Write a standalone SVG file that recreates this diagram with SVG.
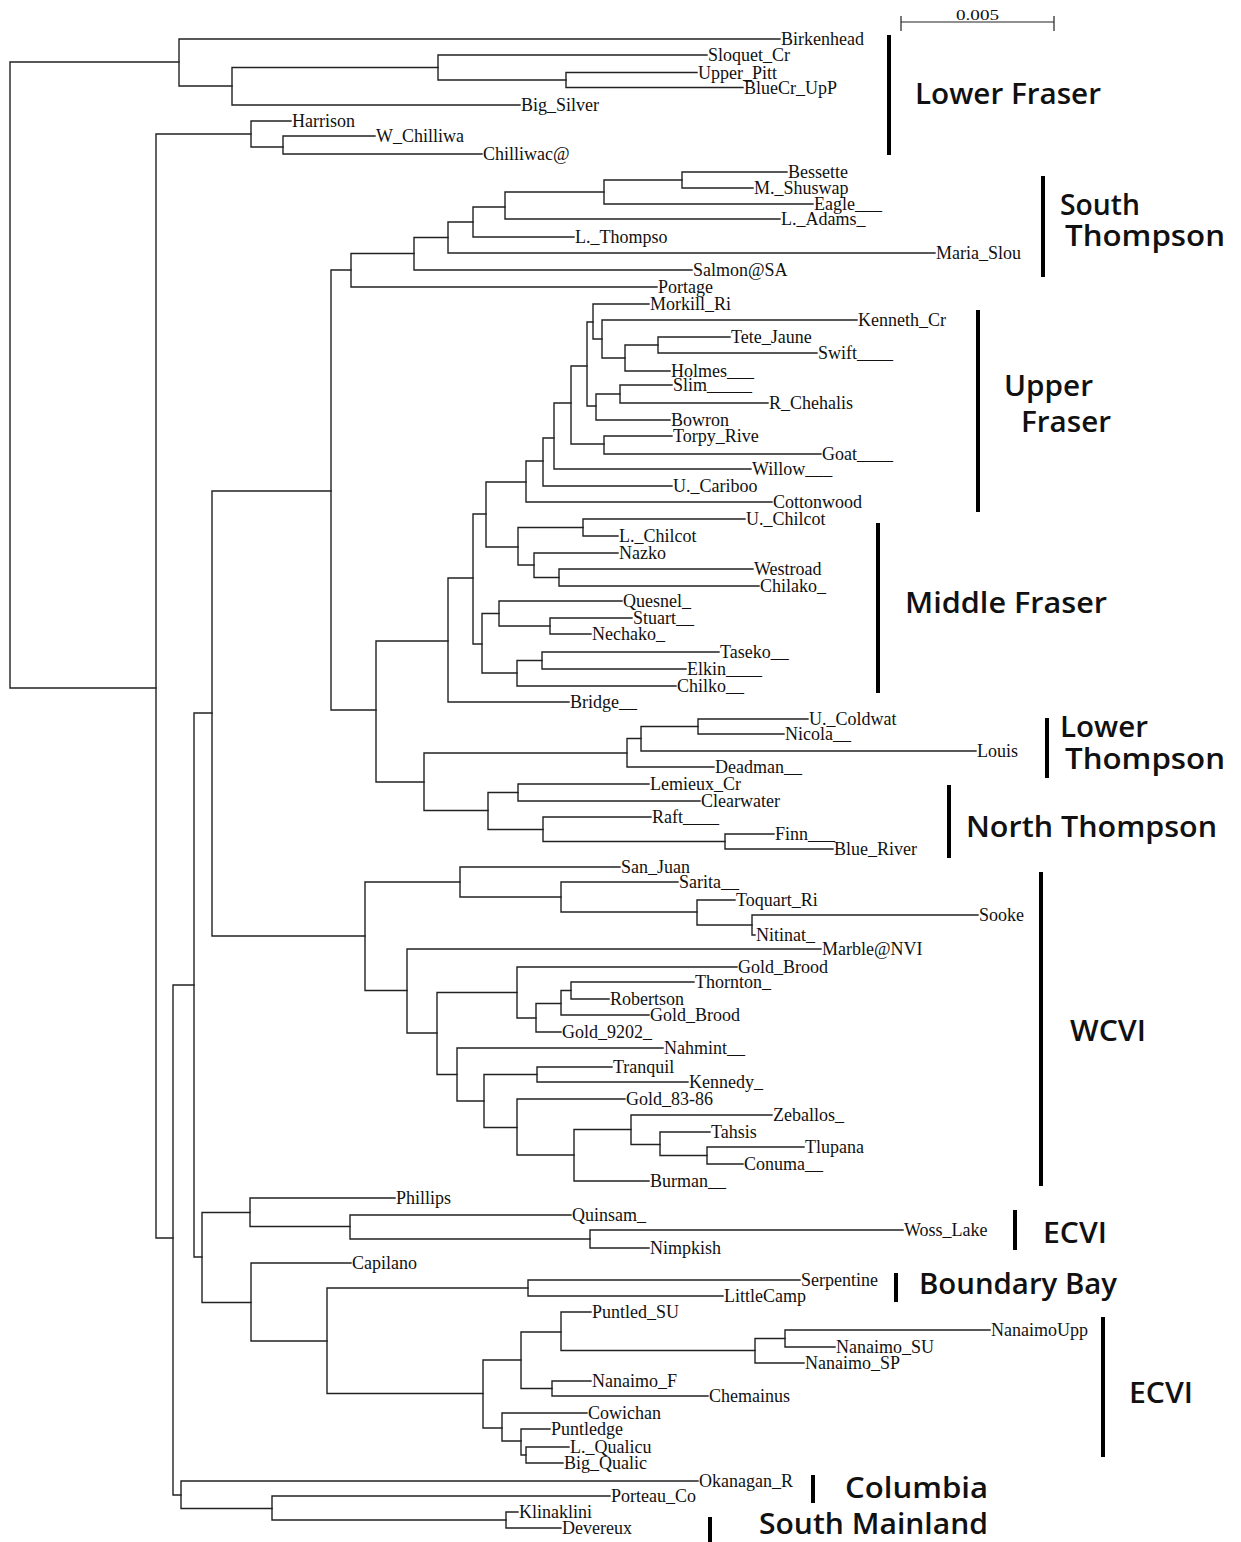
<svg xmlns="http://www.w3.org/2000/svg" width="1241" height="1542" viewBox="0 0 1241 1542">
<style>
.br{fill:none;stroke:#222;stroke-width:1.4;stroke-linecap:square}
.lf{font-family:"Liberation Serif",serif;font-size:18px;fill:#111}
.gl{font-family:"Open Sans",sans-serif;font-weight:600;font-size:28px;fill:#111}
.bar{stroke:#000;stroke-width:4}
.sc{fill:none;stroke:#222;stroke-width:1.2}
</style>
<rect width="1241" height="1542" fill="#fff"/>
<g id="scale-bar">
<path class="sc" d="M901 22 H1054 M901 16 V31 M1054 16 V31"/>
<text x="956" y="20" font-family="Liberation Serif, serif" font-size="14" textLength="43" lengthAdjust="spacingAndGlyphs" fill="#111">0.005</text>
</g>
<g id="connectors">
<path class="br" d="M179 62 H10 V688 H156"/>
<path class="br" d="M780 39 H179 V86 H232"/>
<path class="br" d="M438 67.5 H232 V105 H520"/>
<path class="br" d="M707 55 H438 V80 H566"/>
<path class="br" d="M697 72.5 H566 V87.5 H743"/>
<path class="br" d="M251 134 H156 V1238 H173"/>
<path class="br" d="M291 121 H251 V147 H283"/>
<path class="br" d="M375 136 H283 V154 H482"/>
<path class="br" d="M194 985 H173 V1495 H181"/>
<path class="br" d="M212 713 H194 V1257 H202"/>
<path class="br" d="M331 491 H212 V936 H365"/>
<path class="br" d="M351 270 H331 V710 H376"/>
<path class="br" d="M414 253.5 H351 V287 H657"/>
<path class="br" d="M448 237.5 H414 V270 H692"/>
<path class="br" d="M473 222 H448 V253 H935"/>
<path class="br" d="M505 207 H473 V237 H574"/>
<path class="br" d="M604 192 H505 V219 H780"/>
<path class="br" d="M682 180 H604 V204 H813"/>
<path class="br" d="M787 172 H682 V188 H753"/>
<path class="br" d="M448 641 H376 V782 H424"/>
<path class="br" d="M473 578 H448 V702 H569"/>
<path class="br" d="M486 514 H473 V644 H482"/>
<path class="br" d="M526 482 H486 V547 H518"/>
<path class="br" d="M543 461 H526 V502 H772"/>
<path class="br" d="M554 438 H543 V486 H672"/>
<path class="br" d="M571 403 H554 V469 H751"/>
<path class="br" d="M587 366 H571 V444 H604"/>
<path class="br" d="M672 436 H604 V454 H821"/>
<path class="br" d="M593 322 H587 V406 H596"/>
<path class="br" d="M620 394 H596 V420 H670"/>
<path class="br" d="M672 385 H620 V403 H768"/>
<path class="br" d="M649 304 H593 V339 H602"/>
<path class="br" d="M857 320 H602 V358 H625"/>
<path class="br" d="M658 345 H625 V371 H670"/>
<path class="br" d="M730 337 H658 V353 H817"/>
<path class="br" d="M583 527.5 H518 V565 H534"/>
<path class="br" d="M745 519 H583 V536 H618"/>
<path class="br" d="M618 553 H534 V577.5 H559"/>
<path class="br" d="M753 569 H559 V586 H759"/>
<path class="br" d="M499 613.5 H482 V673 H517"/>
<path class="br" d="M622 601 H499 V626 H550"/>
<path class="br" d="M632 618 H550 V634 H591"/>
<path class="br" d="M542 660.5 H517 V686 H676"/>
<path class="br" d="M719 652 H542 V669 H686"/>
<path class="br" d="M627 753 H424 V810.5 H488"/>
<path class="br" d="M641 738.5 H627 V767 H714"/>
<path class="br" d="M698 726.5 H641 V751 H976"/>
<path class="br" d="M808 719 H698 V734 H784"/>
<path class="br" d="M518 792.5 H488 V829.5 H543"/>
<path class="br" d="M649 784 H518 V801 H700"/>
<path class="br" d="M651 817 H543 V841.5 H725"/>
<path class="br" d="M774 834 H725 V849 H833"/>
<path class="br" d="M460 882 H365 V990.5 H407"/>
<path class="br" d="M620 867 H460 V897 H561"/>
<path class="br" d="M678 882 H561 V912 H697"/>
<path class="br" d="M735 900 H697 V925 H752"/>
<path class="br" d="M978 915 H752 V935 H755"/>
<path class="br" d="M821 949 H407 V1033 H437"/>
<path class="br" d="M517 992.5 H437 V1074.5 H457"/>
<path class="br" d="M737 967 H517 V1018 H536"/>
<path class="br" d="M561 1003.5 H536 V1032 H561"/>
<path class="br" d="M571 990.5 H561 V1015 H649"/>
<path class="br" d="M694 982 H571 V999 H609"/>
<path class="br" d="M663 1048 H457 V1101 H484"/>
<path class="br" d="M537 1074.5 H484 V1127.5 H517"/>
<path class="br" d="M612 1067 H537 V1082 H688"/>
<path class="br" d="M625 1099 H517 V1155 H574"/>
<path class="br" d="M631 1129.5 H574 V1181 H649"/>
<path class="br" d="M772 1115 H631 V1144.5 H660"/>
<path class="br" d="M710 1132 H660 V1155.5 H707"/>
<path class="br" d="M804 1147 H707 V1164 H743"/>
<path class="br" d="M250 1212.5 H202 V1302.5 H251"/>
<path class="br" d="M395 1198 H250 V1226.5 H350"/>
<path class="br" d="M571 1215 H350 V1239 H590"/>
<path class="br" d="M903 1230 H590 V1248 H649"/>
<path class="br" d="M351 1263 H251 V1341 H327"/>
<path class="br" d="M528 1288 H327 V1393.5 H483"/>
<path class="br" d="M800 1280 H528 V1296 H723"/>
<path class="br" d="M521 1360 H483 V1428 H502"/>
<path class="br" d="M561 1332 H521 V1388.5 H552"/>
<path class="br" d="M591 1312 H561 V1350.5 H755"/>
<path class="br" d="M785 1338.5 H755 V1363 H804"/>
<path class="br" d="M990 1330 H785 V1347 H835"/>
<path class="br" d="M591 1381 H552 V1396 H708"/>
<path class="br" d="M587 1413 H502 V1441 H521"/>
<path class="br" d="M550 1429 H521 V1455 H526"/>
<path class="br" d="M569 1447 H526 V1463 H563"/>
<path class="br" d="M698 1481 H181 V1508.5 H272"/>
<path class="br" d="M610 1496 H272 V1520 H506"/>
<path class="br" d="M518 1512 H506 V1528 H561"/>
</g>
<g id="leaves" class="lf">
<g id="n-birkenhead"><text x="781" y="45">Birkenhead</text></g>
<g id="n-sloquet"><text x="708" y="61">Sloquet_Cr</text></g>
<g id="n-upperpitt"><text x="698" y="78.5">Upper_Pitt</text></g>
<g id="n-bluecr"><text x="744" y="93.5">BlueCr_UpP</text></g>
<g id="n-bigsilver"><text x="521" y="111">Big_Silver</text></g>
<g id="n-harrison"><text x="292" y="127">Harrison</text></g>
<g id="n-wchilliwa"><text x="376" y="142">W_Chilliwa</text></g>
<g id="n-chilliwac"><text x="483" y="160">Chilliwac@</text></g>
<g id="n-bessette"><text x="788" y="178">Bessette</text></g>
<g id="n-mshuswap"><text x="754" y="194">M._Shuswap</text></g>
<g id="n-eagle"><text x="814" y="210">Eagle___</text></g>
<g id="n-ladams"><text x="781" y="225">L._Adams_</text></g>
<g id="n-lthompso"><text x="575" y="243">L._Thompso</text></g>
<g id="n-mariaslou"><text x="936" y="259">Maria_Slou</text></g>
<g id="n-salmonsa"><text x="693" y="276">Salmon@SA</text></g>
<g id="n-portage"><text x="658" y="293">Portage</text></g>
<g id="n-morkill"><text x="650" y="310">Morkill_Ri</text></g>
<g id="n-kenneth"><text x="858" y="326">Kenneth_Cr</text></g>
<g id="n-tetejaune"><text x="731" y="343">Tete_Jaune</text></g>
<g id="n-swift"><text x="818" y="359">Swift____</text></g>
<g id="n-holmes"><text x="671" y="377">Holmes___</text></g>
<g id="n-slim"><text x="673" y="391">Slim_____</text></g>
<g id="n-rchehalis"><text x="769" y="409">R_Chehalis</text></g>
<g id="n-bowron"><text x="671" y="426">Bowron</text></g>
<g id="n-torpy"><text x="673" y="442">Torpy_Rive</text></g>
<g id="n-goat"><text x="822" y="460">Goat____</text></g>
<g id="n-willow"><text x="752" y="475">Willow___</text></g>
<g id="n-ucariboo"><text x="673" y="492">U._Cariboo</text></g>
<g id="n-cottonwood"><text x="773" y="508">Cottonwood</text></g>
<g id="n-uchilcot"><text x="746" y="525">U._Chilcot</text></g>
<g id="n-lchilcot"><text x="619" y="542">L._Chilcot</text></g>
<g id="n-nazko"><text x="619" y="559">Nazko</text></g>
<g id="n-westroad"><text x="754" y="575">Westroad</text></g>
<g id="n-chilako"><text x="760" y="592">Chilako_</text></g>
<g id="n-quesnel"><text x="623" y="607">Quesnel_</text></g>
<g id="n-stuart"><text x="633" y="624">Stuart__</text></g>
<g id="n-nechako"><text x="592" y="640">Nechako_</text></g>
<g id="n-taseko"><text x="720" y="658">Taseko__</text></g>
<g id="n-elkin"><text x="687" y="675">Elkin____</text></g>
<g id="n-chilko"><text x="677" y="692">Chilko__</text></g>
<g id="n-bridge"><text x="570" y="708">Bridge__</text></g>
<g id="n-ucoldwat"><text x="809" y="725">U._Coldwat</text></g>
<g id="n-nicola"><text x="785" y="740">Nicola__</text></g>
<g id="n-louis"><text x="977" y="757">Louis</text></g>
<g id="n-deadman"><text x="715" y="773">Deadman__</text></g>
<g id="n-lemieux"><text x="650" y="790">Lemieux_Cr</text></g>
<g id="n-clearwater"><text x="701" y="807">Clearwater</text></g>
<g id="n-raft"><text x="652" y="823">Raft____</text></g>
<g id="n-finn"><text x="775" y="840">Finn___</text></g>
<g id="n-blueriver"><text x="834" y="855">Blue_River</text></g>
<g id="n-sanjuan"><text x="621" y="873">San_Juan</text></g>
<g id="n-sarita"><text x="679" y="888">Sarita__</text></g>
<g id="n-toquart"><text x="736" y="906">Toquart_Ri</text></g>
<g id="n-sooke"><text x="979" y="921">Sooke</text></g>
<g id="n-nitinat"><text x="756" y="941">Nitinat_</text></g>
<g id="n-marble"><text x="822" y="955">Marble@NVI</text></g>
<g id="n-goldbrood1"><text x="738" y="973">Gold_Brood</text></g>
<g id="n-thornton"><text x="695" y="988">Thornton_</text></g>
<g id="n-robertson"><text x="610" y="1005">Robertson</text></g>
<g id="n-goldbrood2"><text x="650" y="1021">Gold_Brood</text></g>
<g id="n-gold9202"><text x="562" y="1038">Gold_9202_</text></g>
<g id="n-nahmint"><text x="664" y="1054">Nahmint__</text></g>
<g id="n-tranquil"><text x="613" y="1073">Tranquil</text></g>
<g id="n-kennedy"><text x="689" y="1088">Kennedy_</text></g>
<g id="n-gold8386"><text x="626" y="1105">Gold_83-86</text></g>
<g id="n-zeballos"><text x="773" y="1121">Zeballos_</text></g>
<g id="n-tahsis"><text x="711" y="1138">Tahsis</text></g>
<g id="n-tlupana"><text x="805" y="1153">Tlupana</text></g>
<g id="n-conuma"><text x="744" y="1170">Conuma__</text></g>
<g id="n-burman"><text x="650" y="1187">Burman__</text></g>
<g id="n-phillips"><text x="396" y="1204">Phillips</text></g>
<g id="n-quinsam"><text x="572" y="1221">Quinsam_</text></g>
<g id="n-wosslake"><text x="904" y="1236">Woss_Lake</text></g>
<g id="n-nimpkish"><text x="650" y="1254">Nimpkish</text></g>
<g id="n-capilano"><text x="352" y="1269">Capilano</text></g>
<g id="n-serpentine"><text x="801" y="1286">Serpentine</text></g>
<g id="n-littlecamp"><text x="724" y="1302">LittleCamp</text></g>
<g id="n-puntledsu"><text x="592" y="1318">Puntled_SU</text></g>
<g id="n-nanaimoupp"><text x="991" y="1336">NanaimoUpp</text></g>
<g id="n-nanaimosu"><text x="836" y="1353">Nanaimo_SU</text></g>
<g id="n-nanaimosp"><text x="805" y="1369">Nanaimo_SP</text></g>
<g id="n-nanaimof"><text x="592" y="1387">Nanaimo_F</text></g>
<g id="n-chemainus"><text x="709" y="1402">Chemainus</text></g>
<g id="n-cowichan"><text x="588" y="1419">Cowichan</text></g>
<g id="n-puntledge"><text x="551" y="1435">Puntledge</text></g>
<g id="n-lqualicu"><text x="570" y="1453">L._Qualicu</text></g>
<g id="n-bigqualic"><text x="564" y="1469">Big_Qualic</text></g>
<g id="n-okanagan"><text x="699" y="1487">Okanagan_R</text></g>
<g id="n-porteau"><text x="611" y="1502">Porteau_Co</text></g>
<g id="n-klinaklini"><text x="519" y="1518">Klinaklini</text></g>
<g id="n-devereux"><text x="562" y="1534">Devereux</text></g>
</g>
<g id="groups">
<g id="g-lowerfraser"><line class="bar" x1="889" y1="35" x2="889" y2="155"/><text class="gl" x="915" y="104" textLength="186" lengthAdjust="spacingAndGlyphs">Lower Fraser</text></g>
<g id="g-souththompson"><line class="bar" x1="1043" y1="176" x2="1043" y2="277"/><text class="gl" x="1060" y="215" textLength="80" lengthAdjust="spacingAndGlyphs">South</text><text class="gl" x="1065" y="246" textLength="160" lengthAdjust="spacingAndGlyphs">Thompson</text></g>
<g id="g-upperfraser"><line class="bar" x1="978" y1="310" x2="978" y2="512"/><text class="gl" x="1004" y="396" textLength="89" lengthAdjust="spacingAndGlyphs">Upper</text><text class="gl" x="1021" y="432" textLength="90" lengthAdjust="spacingAndGlyphs">Fraser</text></g>
<g id="g-middlefraser"><line class="bar" x1="878" y1="523" x2="878" y2="693"/><text class="gl" x="905" y="613" textLength="202" lengthAdjust="spacingAndGlyphs">Middle Fraser</text></g>
<g id="g-lowerthompson"><line class="bar" x1="1047" y1="718" x2="1047" y2="778"/><text class="gl" x="1060" y="737" textLength="88" lengthAdjust="spacingAndGlyphs">Lower</text><text class="gl" x="1065" y="769" textLength="160" lengthAdjust="spacingAndGlyphs">Thompson</text></g>
<g id="g-norththompson"><line class="bar" x1="949" y1="785" x2="949" y2="858"/><text class="gl" x="966" y="837" textLength="251" lengthAdjust="spacingAndGlyphs">North Thompson</text></g>
<g id="g-wcvi"><line class="bar" x1="1041" y1="872" x2="1041" y2="1186"/><text class="gl" x="1070" y="1041" textLength="76" lengthAdjust="spacingAndGlyphs">WCVI</text></g>
<g id="g-ecvi1"><line class="bar" x1="1015" y1="1210" x2="1015" y2="1250"/><text class="gl" x="1043" y="1243" textLength="64" lengthAdjust="spacingAndGlyphs">ECVI</text></g>
<g id="g-boundarybay"><line class="bar" x1="896" y1="1273" x2="896" y2="1302"/><text class="gl" x="919" y="1294" textLength="198" lengthAdjust="spacingAndGlyphs">Boundary Bay</text></g>
<g id="g-ecvi2"><line class="bar" x1="1103" y1="1317" x2="1103" y2="1457"/><text class="gl" x="1129" y="1403" textLength="64" lengthAdjust="spacingAndGlyphs">ECVI</text></g>
<g id="g-columbia"><line class="bar" x1="813" y1="1475" x2="813" y2="1503"/><text class="gl" x="845" y="1498" textLength="143" lengthAdjust="spacingAndGlyphs">Columbia</text></g>
<g id="g-southmainland"><line class="bar" x1="710" y1="1517" x2="710" y2="1542"/><text class="gl" x="759" y="1534" font-size="27" textLength="229" lengthAdjust="spacingAndGlyphs">South Mainland</text></g>
</g>
</svg>
